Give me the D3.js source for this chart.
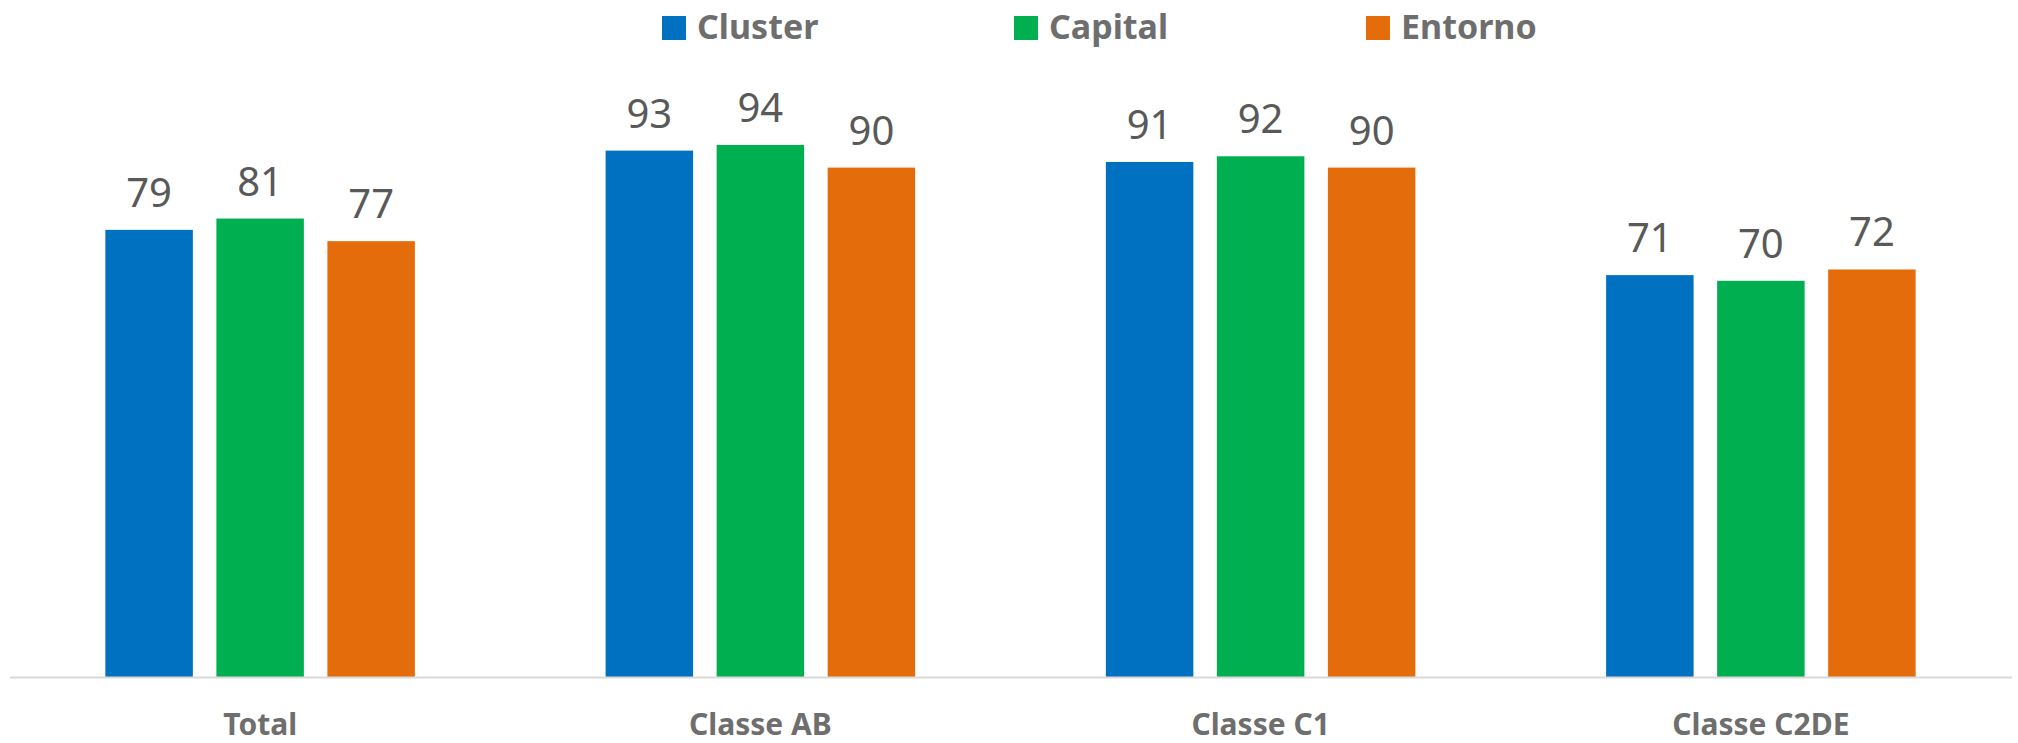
<!DOCTYPE html>
<html>
<head>
<meta charset="utf-8">
<script src="https://cdn.jsdelivr.net/npm/d3@7"></script>
<style>
  html, body { margin: 0; padding: 0; background: #fff; }
  svg { display: block; }
</style>
</head>
<body>
<svg id="chart" width="2018" height="743"></svg>
<script>
const categories = ["Total", "Classe AB", "Classe C1", "Classe C2DE"];
const seriesNames = ["Cluster", "Capital", "Entorno"];
const clusterValues = [79, 93, 91, 71];
const capitalValues = [81, 94, 92, 70];
const entornoValues = [77, 90, 90, 72];
const seriesColors = ["#0070C0", "#00B050", "#E46C0A"];

const seriesValues = [clusterValues, capitalValues, entornoValues];

const svg = d3.select("#chart");
const W = 2018, H = 743;

const x0 = d3.scaleBand().domain(categories).range([10, 2011]).paddingInner(0).paddingOuter(0);
const x1 = d3.scaleBand().domain(seriesNames).range([0, x0.bandwidth()]).paddingInner(0.212).paddingOuter(0.859);
const y = d3.scaleLinear().domain([0, 100]).range([677, 111]);
const color = d3.scaleOrdinal().domain(seriesNames).range(seriesColors);

const data = categories.map((c, i) => ({
  cat: c,
  vals: seriesNames.map((s, j) => ({ s, v: seriesValues[j][i] }))
}));

const groups = svg.append("g").selectAll("g").data(data).join("g")
  .attr("transform", d => `translate(${x0(d.cat)},0)`);

groups.selectAll("rect").data(d => d.vals).join("rect")
  .attr("x", d => x1(d.s))
  .attr("y", d => y(d.v))
  .attr("width", x1.bandwidth())
  .attr("height", d => y(0) - y(d.v))
  .attr("fill", d => color(d.s));

groups.selectAll("text.val").data(d => d.vals).join("text")
  .attr("class", "val")
  .attr("x", d => x1(d.s) + x1.bandwidth() / 2)
  .attr("y", d => y(d.v) - 23)
  .attr("text-anchor", "middle")
  .attr("font-family", "'Noto Sans', sans-serif")
  .attr("font-size", 40)
  .attr("fill", "#595959")
  .text(d => d.v);

// x axis
const xAxis = d3.axisBottom(x0).tickSize(0).tickPadding(0);
const gx = svg.append("g").attr("transform", `translate(0,${y(0)})`).call(xAxis);
gx.select(".domain").attr("stroke", "#d9d9d9").attr("stroke-width", 2).attr("d", `M10,0.5H2012`);
gx.selectAll(".tick text")
  .attr("y", 58)
  .attr("dy", null)
  .attr("font-family", "'Noto Sans', sans-serif")
  .attr("font-weight", "bold")
  .attr("font-size", 30)
  .attr("fill", "#6e6e6e");

// legend
const legendX = d3.scalePoint().domain(seriesNames).range([662, 1366]);
const lg = svg.append("g").selectAll("g").data(seriesNames).join("g")
  .attr("transform", d => `translate(${legendX(d)},0)`);
lg.append("rect").attr("x", 0).attr("y", 16).attr("width", 24).attr("height", 24).attr("fill", d => color(d));
lg.append("text").attr("x", 35).attr("y", 39)
  .attr("font-family", "'Noto Sans', sans-serif")
  .attr("font-weight", "bold")
  .attr("font-size", 34)
  .attr("fill", "#6e6e6e")
  .text(d => d);
</script>
</body>
</html>
